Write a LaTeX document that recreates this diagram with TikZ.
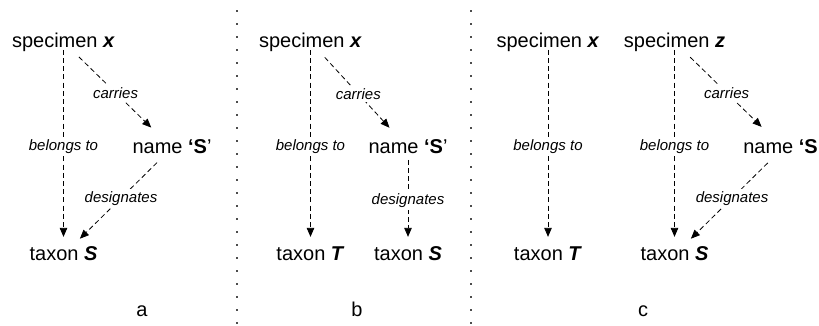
\documentclass[tikz,border=0pt]{standalone}
\usepackage{fontspec}
\setmainfont{Liberation Sans}
\usetikzlibrary{arrows.meta}

\tikzset{
  term/.style={inner sep=0pt, font=\fontsize{20}{24}\selectfont,
               text height=14.5pt, text depth=4.2pt},
  panel/.style={inner sep=0pt, anchor=base, font=\fontsize{20}{24}\selectfont},
  rel/.style={draw=black, line width=0.8pt, dash pattern=on 5pt off 3.2pt,
              -{Triangle[length=9pt,width=7.5pt]}},
  lbl/.style={fill=white, inner sep=2.5pt, font=\fontsize{15}{18}\selectfont\itshape},
  divider/.style={draw=black!70, line width=1.2pt, dash pattern=on 1.5pt off 11.5pt}
}

\begin{document}
\begin{tikzpicture}[x=1pt, y=-1pt]
  \useasboundingbox (0,0) rectangle (819,325);

  % dotted dividers between the three panels
  \coordinate (d1t) at (237,10);  \coordinate (d1b) at (237,325);
  \coordinate (d2t) at (471,10);  \coordinate (d2b) at (471,325);
  \draw[divider] (d1t) -- (d1b);
  \draw[divider] (d2t) -- (d2b);

  % ---- panel a ----
  \node[term] (aspec) at (63.5,41.85) {specimen \textbf{\textit{x}}};
  \node[term] (aname) at (172,147.85) {name \textbf{‘S}’};
  \node[term] (atax)  at (63.5,254.85) {taxon \textbf{\textit{S}}};
  \node[panel] (alab) at (142,316) {a};

  \draw[rel, shorten <=8pt, shorten >=18pt] (aspec.center) -- node[lbl, pos=0.49] {belongs to} (atax.center);
  \draw[rel, shorten <=21.5pt, shorten >=29pt] (aspec.center) -- node[lbl, pos=0.48] {carries} (aname.center);
  \draw[rel, shorten <=21pt, shorten >=23pt] (aname.center) -- node[lbl, pos=0.47] {designates} (atax.center);

  % ---- panel b ----
  \node[term] (bspec) at (310.5,41.85) {specimen \textbf{\textit{x}}};
  \node[term] (bname) at (408,147.85) {name \textbf{‘S}’};
  \node[term] (btaxT) at (310.5,254.85) {taxon \textbf{\textit{T}}};
  \node[term] (btaxS) at (408,254.85) {taxon \textbf{\textit{S}}};
  \node[panel] (blab) at (357,316) {b};

  \draw[rel, shorten <=8pt, shorten >=18pt] (bspec.center) -- node[lbl, pos=0.49] {belongs to} (btaxT.center);
  \draw[rel, shorten <=21pt, shorten >=27.3pt] (bspec.center) -- node[lbl, pos=0.49] {carries} (bname.center);
  \draw[rel, shorten <=12pt, shorten >=18pt] (bname.center) -- node[lbl, pos=0.49] {designates} (btaxS.center);

  % ---- panel c ----
  \node[term] (cspecx) at (548,41.85) {specimen \textbf{\textit{x}}};
  \node[term] (ctaxT)  at (548,254.85) {taxon \textbf{\textit{T}}};
  \node[term] (cspecz) at (674.5,41.85) {specimen \textbf{\textit{z}}};
  \node[term, anchor=east] (cname) at (818,147.85) {name \textbf{‘S}};
  \node[term] (ctaxS)  at (674.5,254.85) {taxon \textbf{\textit{S}}};
  \node[panel] (clab) at (643,316) {c};

  \draw[rel, shorten <=8pt, shorten >=18pt] (cspecx.center) -- node[lbl, pos=0.49] {belongs to} (ctaxT.center);
  \draw[rel, shorten <=8pt, shorten >=18pt] (cspecz.center) -- node[lbl, pos=0.49] {belongs to} (ctaxS.center);
  \draw[rel, shorten <=22pt, shorten >=30pt] (cspecz.center) -- node[lbl, pos=0.48] {carries} ([xshift=2.5pt]cname.center);
  \draw[rel, shorten <=21.5pt, shorten >=23pt] ([xshift=2.5pt]cname.center) -- node[lbl, pos=0.47] {designates} (ctaxS.center);
\end{tikzpicture}
\end{document}
